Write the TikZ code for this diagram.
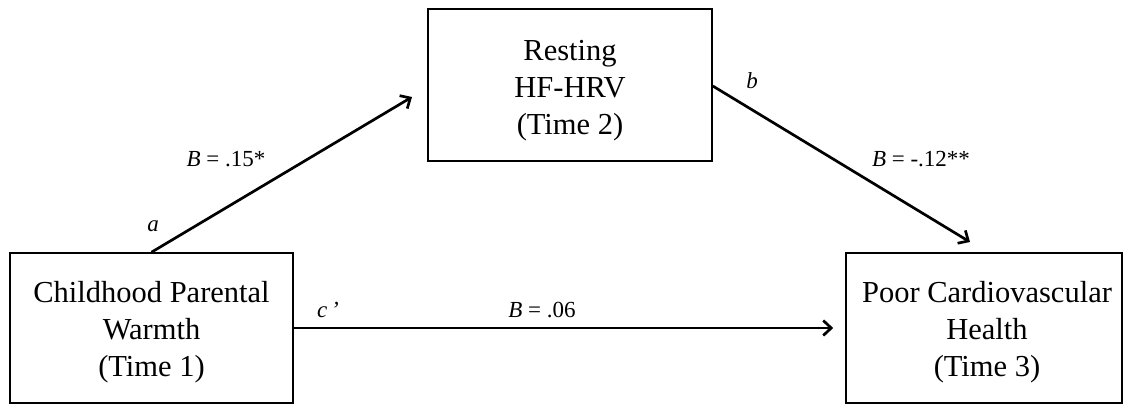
\documentclass[tikz,border=0pt]{standalone}
\usepackage{fontspec}
\setmainfont{Liberation Serif}
\usetikzlibrary{arrows.meta,calc}
\begin{document}
\begin{tikzpicture}[x=1pt,y=-1pt,
  varbox/.style={draw=black, line width=1.6pt, rectangle, inner sep=0pt},
  vartext/.style={align=center, inner sep=0pt, font=\fontsize{30.5}{37}\selectfont},
  path/.style={line width=2.7pt, -{Straight Barb[length=8pt,width=15pt,line width=2.7pt]}},
  coef/.style={font=\fontsize{23}{27}\selectfont, inner sep=0pt},
  pathname/.style={font=\fontsize{23}{27}\selectfont\itshape, inner sep=0pt}]
  \useasboundingbox (0,0) rectangle (1123,404);

  % variables: frame and its three lines of text
  \node[varbox, minimum width=283pt, minimum height=150pt] (X) at (151.5,328) {};
  \node[vartext] (Xt) at ($(X.center)+(0,4)$) {Childhood Parental\\Warmth\\(Time 1)};
  \node[varbox, minimum width=284pt, minimum height=152pt] (M) at (570,85) {};
  \node[vartext] (Mt) at ($(M.center)+(0,6)$) {Resting\\HF-HRV\\(Time 2)};
  \node[varbox, minimum width=276pt, minimum height=150pt] (Y) at (984,328) {};
  \node[vartext] (Yt) at ($(Y.center)+(3,4)$) {Poor Cardiovascular\\Health\\(Time 3)};

  % arrow end points in front of the target boxes
  \coordinate (aEnd) at (412,97);
  \coordinate (bEnd) at (970,242);

  % paths
  \draw[path] (X.north) -- (aEnd);
  \draw[path] (M.east |- 0,86) -- (bEnd);
  \draw[path, shorten >=12pt] (X.east) -- (Y.west);

  % path labels
  \node[pathname] (la) at (153,226) {a};
  \node[coef] (ca) at (226,159) {\textit{B} = .15*};
  \node[pathname] (lb) at (752,81) {b};
  \node[coef] (cb) at (921,159) {\textit{B} = -.12**};
  \node[pathname] (lc) at (328,310) {c\,’};
  \node[coef] (cc) at (542,310) {\textit{B} = .06};
\end{tikzpicture}
\end{document}
